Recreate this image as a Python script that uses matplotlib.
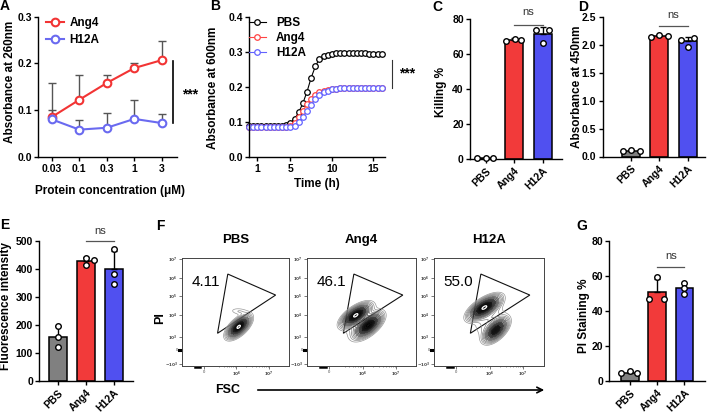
import numpy as np
import matplotlib.pyplot as plt
from matplotlib.patches import FancyArrowPatch, Polygon

plt.rcParams['font.family'] = ['Liberation Sans', 'DejaVu Sans']
plt.rcParams['font.weight'] = 'bold'
plt.rcParams['axes.labelweight'] = 'bold'
plt.rcParams['axes.linewidth'] = 1.0
plt.rcParams['xtick.major.width'] = 1.0
plt.rcParams['ytick.major.width'] = 1.0
plt.rcParams['xtick.major.size'] = 3
plt.rcParams['ytick.major.size'] = 3
plt.rcParams['xtick.major.pad'] = 2
plt.rcParams['ytick.major.pad'] = 1.5
plt.rcParams['xtick.labelsize'] = 7.5
plt.rcParams['ytick.labelsize'] = 7.5

# colours
RED = '#F23A3A'
BLUE = '#5050F0'
GREY = '#808080'
LRED = '#F23434'
LBLUE = '#6A6AF0'

# ---- panel A: absorbance at 260nm vs protein concentration
conc_labels = ['0.03', '0.1', '0.3', '1', '3']
ang4_a = [0.085, 0.122, 0.158, 0.190, 0.207]
ang4_a_sd = [0.073, 0.054, 0.016, 0.011, 0.040]
h12a_a = [0.080, 0.058, 0.062, 0.081, 0.072]
h12a_a_sd = [0.021, 0.021, 0.032, 0.040, 0.019]

# ---- panel B: growth curves (OD600)
time_h = [0, 0.5, 1, 1.5, 2, 2.5, 3, 3.5, 4, 4.5, 5, 5.5, 6, 6.5, 7, 7.5, 8,
          8.5, 9, 9.5, 10, 10.5, 11, 11.5, 12, 12.5, 13, 13.5, 14, 14.5, 15, 15.5, 16]
pbs_od = [0.087, 0.087, 0.087, 0.087, 0.087, 0.087, 0.087, 0.087, 0.087, 0.091, 0.097,
          0.108, 0.127, 0.153, 0.186, 0.226, 0.258, 0.280, 0.287, 0.291, 0.293, 0.295,
          0.296, 0.296, 0.296, 0.296, 0.296, 0.295, 0.295, 0.294, 0.293, 0.293, 0.292]
ang4_od = [0.086, 0.086, 0.086, 0.086, 0.086, 0.086, 0.086, 0.086, 0.086, 0.086, 0.088,
           0.097, 0.112, 0.131, 0.150, 0.166, 0.177, 0.184, 0.188, 0.191, 0.193, 0.194,
           0.195, 0.195, 0.195, 0.196, 0.196, 0.196, 0.196, 0.196, 0.195, 0.195, 0.195]
h12a_od = [0.085, 0.085, 0.085, 0.085, 0.085, 0.085, 0.085, 0.085, 0.085, 0.085, 0.085,
           0.089, 0.099, 0.113, 0.130, 0.148, 0.165, 0.177, 0.184, 0.189, 0.192, 0.194,
           0.195, 0.196, 0.197, 0.197, 0.197, 0.197, 0.197, 0.196, 0.196, 0.196, 0.196]

# ---- bar panels (3 replicates per group)
groups = ['PBS', 'Ang4', 'H12A']
killing_pts = [[0.5, 0.3, 0.6], [67.6, 69.0, 68.4], [73.7, 73.7, 66.5]]
abs450_pts = [[0.10, 0.11, 0.10], [2.14, 2.19, 2.16], [2.10, 2.13, 1.97]]
fluor_pts = [[195, 157, 119], [440, 430, 413], [472, 382, 345]]
pi_pts = [[4.2, 5.5, 4.2], [59.4, 46.5, 46.5], [55.6, 53.2, 49.5]]

# ---- panel F: flow cytometry (PI vs FSC)
flow_pct = ['4.11', '46.1', '55.0']
gate_xy = [(0.428, 0.849), (0.875, 0.655), (0.332, 0.302)]
# populations: centre x, centre y, sd along / across, angle, relative weight
flow_pops = [
    [(0.530, 0.362, 0.060, 0.028, 42, 1.0), (0.535, 0.505, 0.022, 0.060, 85, 0.035),
     (0.525, 0.355, 0.088, 0.047, 42, 0.04)],
    [(0.445, 0.468, 0.070, 0.031, 35, 1.0), (0.560, 0.375, 0.070, 0.033, 40, 0.92),
     (0.500, 0.400, 0.120, 0.075, 45, 0.05)],
    [(0.460, 0.540, 0.077, 0.033, 33, 1.0), (0.565, 0.332, 0.064, 0.033, 45, 0.78),
     (0.510, 0.420, 0.110, 0.080, 50, 0.05)],
]
flow_ytick_pos = [0.985, 0.815, 0.646, 0.471, 0.271, 0.148, 0.018]
flow_ytick_lab = ['$10^7$', '$10^6$', '$10^5$', '$10^4$', '$10^3$', '0', '$-10^3$']
flow_xtick_pos = [0.203, 0.509, 0.813]
flow_xtick_lab = ['0', '$10^6$', '$10^7$']

W, H = 708, 418
fig = plt.figure(figsize=(W / 100, H / 100), dpi=100)


def px_axes(x0, y0, x1, y1):
    return fig.add_axes([x0 / W, 1 - y1 / H, (x1 - x0) / W, (y1 - y0) / H])


def ftext(x, y, s, **kw):
    kw.setdefault('ha', 'center')
    kw.setdefault('va', 'center')
    fig.text(x / W, 1 - y / H, s, **kw)


def prism(ax):
    ax.spines['top'].set_visible(False)
    ax.spines['right'].set_visible(False)
    ax.tick_params(direction='out')


# ================= A
ax = px_axes(38, 16.7, 177, 156.7)
prism(ax)
xa = np.arange(len(conc_labels))
ax.errorbar(xa, ang4_a, yerr=[np.zeros(5), ang4_a_sd], fmt='none', ecolor='#555555',
            elinewidth=1.0, capsize=3, capthick=1.0, zorder=1)
ax.errorbar(xa, h12a_a, yerr=[np.zeros(5), h12a_a_sd], fmt='none', ecolor='#555555',
            elinewidth=1.0, capsize=3, capthick=1.0, zorder=1)
ax.plot(xa, ang4_a, '-o', color=LRED, lw=1.5, ms=5.5, mfc='white', mew=1.5, label='Ang4', zorder=3)
ax.plot(xa, h12a_a, '-o', color=LBLUE, lw=1.5, ms=5.5, mfc='white', mew=1.5, label='H12A', zorder=3)
ax.set_xlim(-0.5, 4.55)
ax.set_ylim(0, 0.3)
ax.set_yticks([0, 0.1, 0.2, 0.3])
ax.set_xticks(xa)
ax.set_xticklabels(conc_labels)
ax.plot([4.39, 4.39], [0.0716, 0.205], color='k', lw=1.2, clip_on=False)
ax.legend(loc='upper left', bbox_to_anchor=(46 / W, 1 - 17 / H), bbox_transform=fig.transFigure,
          frameon=False, fontsize=8.5, handlelength=1.5, handletextpad=0.5, labelspacing=0.45,
          borderpad=0, borderaxespad=0)
ftext(190, 94, '***', fontsize=10)
ftext(10, 82, 'Absorbance at 260nm', rotation=90, fontsize=8.5)
ftext(110, 191, 'Protein concentration (μM)', fontsize=8.5)

# ================= B
ax = px_axes(249, 16.7, 385, 156.7)
prism(ax)
for y, c, lab in [(pbs_od, 'black', 'PBS'), (ang4_od, '#FF4444', 'Ang4'), (h12a_od, '#6262FF', 'H12A')]:
    ax.plot(time_h, y, '-o', color=c, lw=0.8, ms=4, mfc='white', mew=0.9, label=lab, clip_on=False)
ax.set_xlim(0, 16.4)
ax.set_ylim(0, 0.4)
ax.set_xticks([1, 5, 10, 15])
ax.set_yticks([0, 0.1, 0.2, 0.3, 0.4])
ax.plot([17.25, 17.25], [0.195, 0.277], color='#333333', lw=0.8, clip_on=False)
ax.legend(loc='upper left', bbox_to_anchor=(249 / W, 1 - 17 / H), bbox_transform=fig.transFigure,
          frameon=False, fontsize=8.5, handlelength=1.4, handletextpad=0.9, labelspacing=0.25,
          borderpad=0, borderaxespad=0)
ftext(407, 73, '***', fontsize=10)
ftext(213, 88, 'Absorbance at 600nm', rotation=90, fontsize=8.5)
ftext(317, 184, 'Time (h)', fontsize=8.5)


# ================= bar panels
def bar_panel(box, pts, offsets, ylim, yticks, fmt, xlim, ns_y, ns_text_y, colors):
    ax = px_axes(*box)
    prism(ax)
    xs = np.arange(len(groups))
    means = [np.mean(p) for p in pts]
    sds = [np.std(p, ddof=1) for p in pts]
    ax.bar(xs, means, width=0.64, color=colors, edgecolor='black', linewidth=1.1, zorder=2)
    ax.errorbar(xs, means, yerr=[np.zeros(3), sds], fmt='none', ecolor='black',
                elinewidth=1.0, capsize=2.5, capthick=1.0, zorder=3)
    for i, p in enumerate(pts):
        ax.plot(xs[i] + np.array(offsets[i]), p, 'o', ms=4, mfc='white', mec='black',
                mew=1.0, zorder=4, clip_on=False)
    ax.set_xlim(*xlim)
    ax.set_ylim(*ylim)
    ax.set_yticks(yticks)
    ax.set_yticklabels([fmt.format(v) for v in yticks])
    ax.set_xticks(xs)
    ax.set_xticklabels(groups, rotation=45, ha='right', rotation_mode='anchor', fontsize=7.5)
    ax.plot([1, 2], [ns_y, ns_y], color='#555555', lw=0.9, clip_on=False)
    ax.text(1.5, ns_text_y, 'ns', ha='center', va='center', fontsize=8, fontweight='normal',
            color='#333333', clip_on=False)
    return ax


bar_panel((470, 19.3, 562, 159), killing_pts,
          [[-0.3, 0, 0.27], [-0.27, 0.02, 0.23], [-0.22, 0.22, 0]],
          (0, 80), [0, 20, 40, 60, 80], '{:g}', (-0.55, 2.68), 77, 84,
          ['#606060', RED, BLUE])
ftext(441, 92, 'Killing %', rotation=90, fontsize=8.5)

bar_panel((602.5, 17.3, 705, 156.5), abs450_pts,
          [[-0.3, 0, 0.3], [-0.3, 0, 0.3], [-0.24, 0.24, 0]],
          (0, 2.5), [0, 0.5, 1.0, 1.5, 2.0, 2.5], '{:.1f}', (-1.02, 2.62), 2.34, 2.54,
          [GREY, RED, BLUE])
ftext(577, 87, 'Absorbance at 450nm', rotation=90, fontsize=8.5)

bar_panel((39.3, 240.7, 133, 380.7), fluor_pts,
          [[0, 0, 0], [0, 0.3, 0], [0, 0, 0]],
          (0, 500), [0, 100, 200, 300, 400, 500], '{:g}', (-0.68, 2.69), 499, 533,
          [GREY, RED, BLUE])
ftext(6, 306, 'Fluorescence intensity', rotation=90, fontsize=8.5)

bar_panel((609.3, 240.7, 705, 380.7), pi_pts,
          [[-0.32, 0, 0.26], [0, -0.3, 0.26], [0, 0, 0]],
          (0, 80), [0, 20, 40, 60, 80], '{:g}', (-0.75, 2.75), 64.8, 71,
          [GREY, RED, BLUE])
ftext(584, 316, 'PI Staining %', rotation=90, fontsize=8.5)

# ================= F: flow plots
gx, gy = np.meshgrid(np.linspace(0, 1, 320), np.linspace(0, 1, 320))
levels = [0.02, 0.034, 0.052, 0.075, 0.105, 0.145, 0.195, 0.255, 0.325, 0.405,
          0.495, 0.59, 0.69, 0.79, 0.89]
line_cols = [str(g) for g in np.linspace(0.6, 0.0, len(levels))]
flow_boxes = [(182, 257.7, 289, 366), (307, 257.7, 416.5, 366), (434, 257.7, 543.5, 366)]

for k, (bx, pops) in enumerate(zip(flow_boxes, flow_pops)):
    ax = px_axes(*bx)
    z = np.zeros_like(gx)
    for cx, cy, sa, sb, ang, w in pops:
        t = np.deg2rad(ang)
        dx, dy = gx - cx, gy - cy
        u = dx * np.cos(t) + dy * np.sin(t)
        v = -dx * np.sin(t) + dy * np.cos(t)
        z += w * np.exp(-0.5 * ((u / sa) ** 2 + (v / sb) ** 2))
    z = z / z.max()
    ax.contourf(gx, gy, z, levels=[0.15, 0.35, 0.6, 1.01],
                colors=['#a8a8a8', '#4a4a4a', '#121212'])
    ax.contour(gx, gy, z, levels=levels, colors=line_cols, linewidths=0.5)
    ax.contour(gx, gy, z, levels=[0.95], colors='white', linewidths=0.9)
    ax.add_patch(Polygon(gate_xy, closed=True, fill=False, ec='#111111', lw=0.8))
    ax.text(0.22, 0.78, flow_pct[k], ha='center', va='center', fontsize=11, fontweight='normal')
    ax.set_xlim(0, 1)
    ax.set_ylim(0, 1)
    for s in ax.spines.values():
        s.set_linewidth(0.7)
        s.set_color('#444444')
    ax.set_yticks(flow_ytick_pos)
    ax.set_yticklabels(flow_ytick_lab, fontsize=3, fontweight='normal')
    ax.set_xticks(flow_xtick_pos)
    ax.set_xticklabels(flow_xtick_lab, fontsize=3, fontweight='normal')
    minor = [0.509 + 0.304 * np.log10(m) for m in range(2, 10)] + \
            [0.509 - 0.304 * (1 - np.log10(m)) for m in range(3, 10)]
    ax.set_xticks(minor, minor=True)
    ax.tick_params(which='major', length=2, width=0.5, pad=1, colors='#444444')
    ax.tick_params(which='minor', length=1, width=0.4, colors='#444444')
    ax.plot([-0.025, -0.005], [0.148, 0.148], color='k', lw=2.2, clip_on=False)
    ax.plot([0.12, 0.17], [-0.01, -0.01], color='k', lw=1.8, clip_on=False)
    ftext((bx[0] + bx[2]) / 2, 240, groups[k], fontsize=9.5)

ftext(160, 318, 'PI', rotation=90, fontsize=9)
ftext(228, 390, 'FSC', fontsize=9)
fig.add_artist(FancyArrowPatch((255 / W, 1 - 390 / H), (547 / W, 1 - 390 / H),
                               transform=fig.transFigure, arrowstyle='->',
                               mutation_scale=10, lw=1.2, color='black'))

# panel letters
for lt, x, y in [('A', 5, 6), ('B', 215, 6), ('C', 437, 7), ('D', 583, 7),
                 ('E', 5, 225), ('F', 160, 226), ('G', 582, 226)]:
    ftext(x, y, lt, fontsize=10)

fig.savefig('out.png', dpi=100)
